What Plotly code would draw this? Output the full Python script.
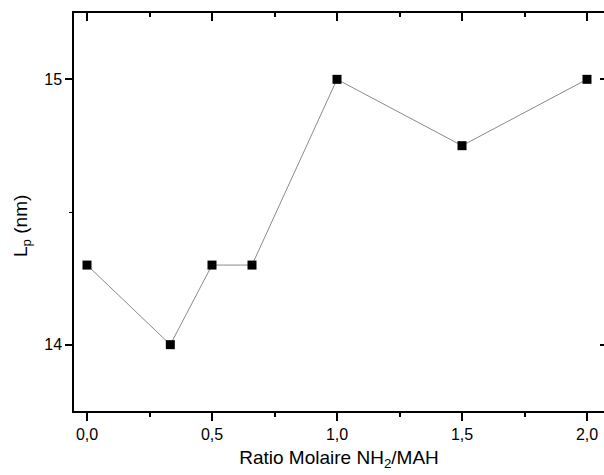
import plotly.graph_objects as go

ratio = [0.0, 1/3, 0.5, 0.66, 1.0, 1.5, 2.0]
lp = [14.3, 14.0, 14.3, 14.3, 15.0, 14.75, 15.0]

x_tickvals = [0.0, 0.5, 1.0, 1.5, 2.0]
x_ticktext = ["0,0", "0,5", "1,0", "1,5", "2,0"]
y_tickvals = [14, 15]
y_ticktext = ["14", "15"]

font = "Liberation Sans, Arial, sans-serif"

fig = go.Figure()
fig.add_trace(go.Scatter(
    x=ratio, y=lp, mode="lines+markers",
    line=dict(color="#8a8a8a", width=1),
    marker=dict(symbol="square", size=9, color="black"),
    showlegend=False,
))
# invisible companion trace so the mirrored top/right axes are drawn
fig.add_trace(go.Scatter(
    x=ratio, y=lp, xaxis="x2", yaxis="y2", mode="markers",
    marker=dict(opacity=0), hoverinfo="skip", showlegend=False,
))

xrange = [-0.052, 2.068]
yrange = [13.75, 15.25]

fig.update_layout(
    width=604, height=475,
    margin=dict(l=74, r=0, t=13, b=64, autoexpand=False),
    plot_bgcolor="white", paper_bgcolor="white",
    font=dict(family=font, color="black", size=16),
    xaxis=dict(
        range=xrange, showgrid=False, zeroline=False, automargin=False,
        showline=True, linecolor="black", linewidth=1.5, mirror=True,
        tickmode="array", tickvals=x_tickvals, ticktext=x_ticktext,
        ticks="outside", ticklen=8, tickwidth=1.5, tickcolor="black",
        minor=dict(dtick=0.25, tick0=0, ticks="outside", ticklen=4, tickwidth=1.5, tickcolor="black"),
        tickfont=dict(size=16),
        title=dict(text="Ratio Molaire NH<sub>2</sub>/MAH", font=dict(size=19), standoff=9),
    ),
    yaxis=dict(
        range=yrange, showgrid=False, zeroline=False, automargin=False,
        showline=True, linecolor="black", linewidth=1.5,
        tickmode="array", tickvals=y_tickvals, ticktext=y_ticktext,
        ticks="outside", ticklen=7, tickwidth=1.5, tickcolor="black",
        minor=dict(dtick=0.5, tick0=14, ticks="outside", ticklen=3, tickwidth=1, tickcolor="black"),
        tickfont=dict(size=16),
    ),
    xaxis2=dict(
        overlaying="x", side="top", anchor="y", range=xrange, automargin=False,
        showgrid=False, zeroline=False, showline=False,
        tickmode="array", tickvals=x_tickvals, showticklabels=False,
        ticks="inside", ticklen=8, tickwidth=1.5, tickcolor="black",
        minor=dict(dtick=0.25, tick0=0, ticks="inside", ticklen=4, tickwidth=1.5, tickcolor="black"),
    ),
    yaxis2=dict(
        overlaying="y", side="right", anchor="x", range=yrange, automargin=False,
        showgrid=False, zeroline=False, showline=False,
        tickmode="array", tickvals=y_tickvals, showticklabels=False,
        ticks="inside", ticklen=4, tickwidth=1.5, tickcolor="black",
    ),
    annotations=[dict(
        text="L<sub>p</sub> (nm)", textangle=-90,
        xref="paper", yref="paper", x=-0.098, y=0.465,
        xanchor="center", yanchor="middle", showarrow=False,
        font=dict(size=19),
    )],
)

fig.write_html("out.html", config={"displayModeBar": False},
               post_script="document.body.style.margin='0px';")
